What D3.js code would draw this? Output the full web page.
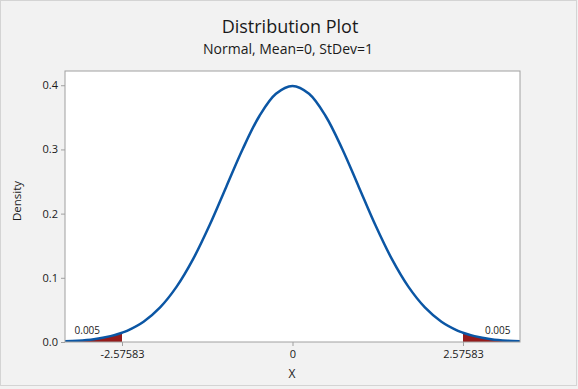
<!DOCTYPE html>
<html>
<head>
<meta charset="utf-8">
<script src="https://cdn.jsdelivr.net/npm/d3@7"></script>
<style>
  body { margin: 0; background: #f2f2f2; }
  text { font-family: "Open Sans", "Noto Sans", sans-serif; fill: #1a1a1a; }
</style>
</head>
<body>
<svg class="chart" width="578" height="389"></svg>
<script>
// density
const xValues = [-3.5, -3.25, -3, -2.75, -2.57583, -2.5, -2.25, -2, -1.75, -1.5, -1.25, -1, -0.75, -0.5, -0.25, 0,
                 0.25, 0.5, 0.75, 1, 1.25, 1.5, 1.75, 2, 2.25, 2.5, 2.57583, 2.75, 3, 3.25, 3.5];
const densityValues = [0.0009, 0.0020, 0.0044, 0.0091, 0.0145, 0.0175, 0.0317, 0.0540, 0.0863, 0.1295, 0.1826, 0.2420, 0.3011, 0.3521, 0.3867, 0.3989,
                       0.3867, 0.3521, 0.3011, 0.2420, 0.1826, 0.1295, 0.0863, 0.0540, 0.0317, 0.0175, 0.0145, 0.0091, 0.0044, 0.0020, 0.0009];
const xTicks = [-2.57583, 0, 2.57583];
const xTickLabels = ['-2.57583', '0', '2.57583'];
const yTicks = [0, 0.1, 0.2, 0.3, 0.4];
const critical = 2.57583;
const tailLabels = ['0.005', '0.005'];

const svg = d3.select('.chart');
const margin = {top: 71, right: 58, bottom: 47, left: 65};
const width = 578 - margin.left - margin.right;
const height = 389 - margin.top - margin.bottom;

// outer frame
svg.append('rect')
    .attr('x', 0.5).attr('y', 0.5).attr('width', 576).attr('height', 385)
    .attr('fill', '#f2f2f2').attr('stroke', '#d4d4d4');

const x = d3.scaleLinear().domain([-3.437, 3.437]).range([0, width]);
const y = d3.scaleLinear().domain([0, 0.4222]).range([height, 0]);

const g = svg.append('g').attr('transform', `translate(${margin.left},${margin.top})`);

g.append('rect').attr('width', width).attr('height', height).attr('fill', '#fff');

svg.append('defs').append('clipPath').attr('id', 'plot-clip')
    .append('rect').attr('width', width).attr('height', height);

const points = xValues.map((d, i) => ({x: d, y: densityValues[i]}));

const area = d3.area()
    .x(d => x(d.x)).y0(y(0)).y1(d => y(d.y))
    .curve(d3.curveCatmullRom);
const line = d3.line()
    .x(d => x(d.x)).y(d => y(d.y))
    .curve(d3.curveCatmullRom);

const plot = g.append('g').attr('clip-path', 'url(#plot-clip)');

plot.append('path')
    .datum(points.filter(d => d.x <= -critical))
    .attr('fill', '#951b1b')
    .attr('d', area);
plot.append('path')
    .datum(points.filter(d => d.x >= critical))
    .attr('fill', '#951b1b')
    .attr('d', area);

plot.append('path')
    .datum(points)
    .attr('fill', 'none')
    .attr('stroke', '#0b56a4')
    .attr('stroke-width', 2.5)
    .attr('d', line);

// frame
g.append('rect').attr('width', width).attr('height', height)
    .attr('fill', 'none').attr('stroke', '#a0a0a0').attr('stroke-width', 1);

const xAxis = g.append('g').attr('transform', `translate(0,${height})`)
    .call(d3.axisBottom(x).tickValues(xTicks).tickFormat((d, i) => xTickLabels[i]).tickSize(4).tickPadding(4));
const yAxis = g.append('g')
    .call(d3.axisLeft(y).tickValues(yTicks).tickFormat(d3.format('.1f')).tickSize(4).tickPadding(3));
[xAxis, yAxis].forEach(a => {
    a.select('.domain').remove();
    a.selectAll('line').attr('stroke', '#a0a0a0');
    a.selectAll('text').style('font-size', '11px').attr('fill', '#1a1a1a');
});

// tail probability labels
g.append('text').attr('x', x(-3.1)).attr('y', y(0.0118)).attr('text-anchor', 'middle')
    .style('font-size', '10px').text(tailLabels[0]);
g.append('text').attr('x', x(3.1)).attr('y', y(0.0118)).attr('text-anchor', 'middle')
    .style('font-size', '10px').text(tailLabels[1]);

svg.append('text').attr('x', 290).attr('y', 33).attr('text-anchor', 'middle')
    .style('font-size', '18px').text('Distribution Plot');
svg.append('text').attr('x', 288).attr('y', 54).attr('text-anchor', 'middle')
    .style('font-size', '14px').text('Normal, Mean=0, StDev=1');

svg.append('text').attr('x', 292).attr('y', 378).attr('text-anchor', 'middle')
    .style('font-size', '12px').text('X');
svg.append('text').attr('transform', 'translate(21,201) rotate(-90)').attr('text-anchor', 'middle')
    .style('font-size', '11.5px').text('Density');
</script>
</body>
</html>
